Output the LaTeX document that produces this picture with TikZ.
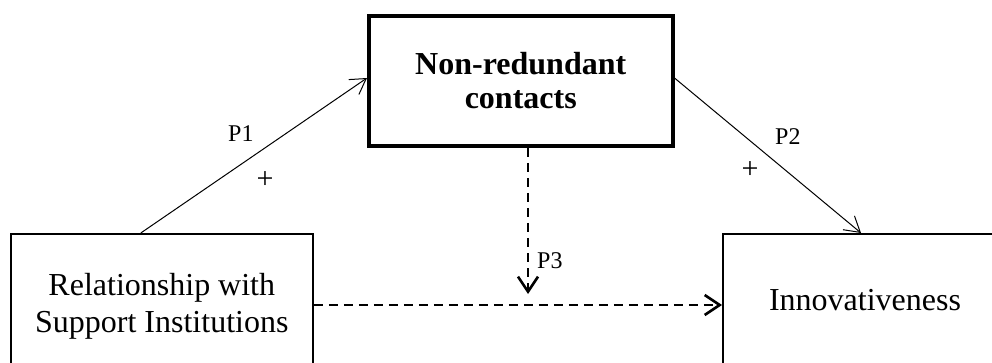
\documentclass[tikz,border=0pt]{standalone}
\usepackage{fontspec}
\setmainfont{Liberation Serif}
\usetikzlibrary{arrows.meta}
\begin{document}
\begin{tikzpicture}[x=1pt,y=-1pt,
  box/.style={draw, line width=2pt, inner sep=0pt, align=center,
    font=\fontsize{32}{37}\selectfont},
  keybox/.style={box, line width=4pt, font=\fontsize{32}{34}\selectfont\bfseries},
  link/.style={line width=1pt, -{Straight Barb[length=15pt,width=18pt]}},
  dlink/.style={line width=2.6pt, dash pattern=on 9pt off 6pt,
    -{Straight Barb[length=15pt,width=20pt]}},
  lab/.style={font=\fontsize{24}{28}\selectfont, inner sep=0pt},
  sign/.style={font=\fontsize{30}{34}\selectfont, inner sep=0pt}]
\useasboundingbox (0,0) rectangle (992,363);
\clip (0,0) rectangle (992,363);

% the three constructs
\node[box, minimum width=302pt, minimum height=144pt] (lbox) at (161.8,306)
  {Relationship with\\Support Institutions};
\node[box, minimum width=284pt, minimum height=132pt] (rbox) at (865,300)
  {Innovativeness};
\node[keybox, minimum width=303.5pt, minimum height=130pt] (nrc) at (520.75,81)
  {Non-redundant\\contacts};

% direct paths
\draw[link] ([xshift=131pt]lbox.north west) -- ([yshift=3pt]nrc.west);
\draw[link] ([yshift=3pt]nrc.east) -- ([xshift=139pt]rbox.north west);

% moderating path
\coordinate (p3tip) at (528,294);
\draw[dlink] (nrc.south -| p3tip) -- (p3tip);
\draw[dlink] ([yshift=1pt]lbox.east) -- ([yshift=1pt]lbox.east -| rbox.west);

% path labels
\node[lab, anchor=base west] (p1) at (228,142) {P1};
\node[sign] (plus1) at (265,180) {+};
\node[lab, anchor=base west] (p2) at (775,145) {P2};
\node[sign] (plus2) at (750,170) {+};
\node[lab, anchor=base west] (p3) at (537,268) {P3};
\end{tikzpicture}
\end{document}
